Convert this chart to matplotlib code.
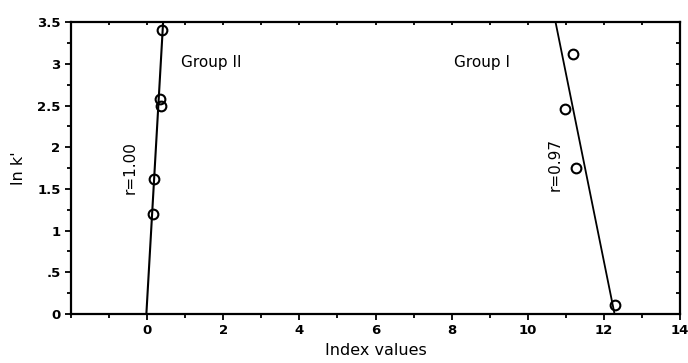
import numpy as np
import matplotlib.pyplot as plt
from matplotlib.ticker import MultipleLocator, FixedLocator

# Group II points and fit line
g2_x = [0.40, 0.33, 0.36, 0.18, 0.15]
g2_y = [3.40, 2.58, 2.50, 1.62, 1.20]
g2_line_x = [-0.02, 0.42]
g2_line_y = [0.0, 3.5]

# Group I points and fit line
g1_x = [11.19, 10.97, 11.28, 12.30]
g1_y = [3.12, 2.46, 1.75, 0.11]
g1_line_x = [10.73, 12.28]
g1_line_y = [3.5, 0.0]

x_ticks = [0, 2, 4, 6, 8, 10, 12, 14]
y_ticks = [0, 0.5, 1, 1.5, 2, 2.5, 3, 3.5]
y_labels = ['0', '.5', '1', '1.5', '2', '2.5', '3', '3.5']

plt.rcParams['font.family'] = ['DejaVu Sans']
plt.rcParams['font.weight'] = 'bold'

fig = plt.figure(figsize=(6.88, 3.63), dpi=100)
ax = fig.add_axes([0.1032, 0.135, 0.8852, 0.804])

ax.plot(g2_line_x, g2_line_y, color='black', lw=1.5)
ax.plot(g1_line_x, g1_line_y, color='black', lw=1.3)
ax.plot(g2_x, g2_y, 'o', mfc='none', mec='black', ms=7, mew=1.5)
ax.plot(g1_x, g1_y, 'o', mfc='none', mec='black', ms=7, mew=1.5)

ax.set_xlim(-2, 14)
ax.set_ylim(0, 3.5)
ax.xaxis.set_major_locator(FixedLocator(x_ticks))
ax.xaxis.set_minor_locator(MultipleLocator(1))
ax.set_yticks(y_ticks)
ax.set_yticklabels(y_labels)
ax.yaxis.set_minor_locator(MultipleLocator(0.25))
ax.tick_params(which='both', direction='out', labelsize=9.5, width=1.3)
ax.tick_params(which='major', length=4)
ax.tick_params(which='minor', length=3)
# inward ticks on the top and right frame
ax.tick_params(which='both', top=True, right=True)
ax.tick_params(axis='x', which='both', labeltop=False)
ax.tick_params(axis='y', which='both', labelright=False)
for t in ax.xaxis.get_major_ticks() + ax.xaxis.get_minor_ticks():
    t.tick2line.set_marker(3)
    t.tick2line.set_markersize(2)
for t in ax.yaxis.get_major_ticks() + ax.yaxis.get_minor_ticks():
    t.tick2line.set_marker(0)
    t.tick2line.set_markersize(3)
for s in ax.spines.values():
    s.set_linewidth(1.6)

ax.text(0.9, 3.02, 'Group II', fontsize=11, fontweight='normal', va='center')
ax.text(8.05, 3.02, 'Group I', fontsize=11, fontweight='normal', va='center')
ax.text(-0.45, 1.76, 'r=1.00', fontsize=11, fontweight='normal', rotation=90,
        ha='center', va='center')
ax.text(10.73, 1.79, 'r=0.97', fontsize=11, fontweight='normal', rotation=90,
        ha='center', va='center')

ax.set_xlabel('Index values', fontsize=11.5, fontweight='normal', labelpad=4)
ax.set_ylabel("ln k'", fontsize=11.5, fontweight='normal', labelpad=8)

fig.savefig('out.png', dpi=100)
